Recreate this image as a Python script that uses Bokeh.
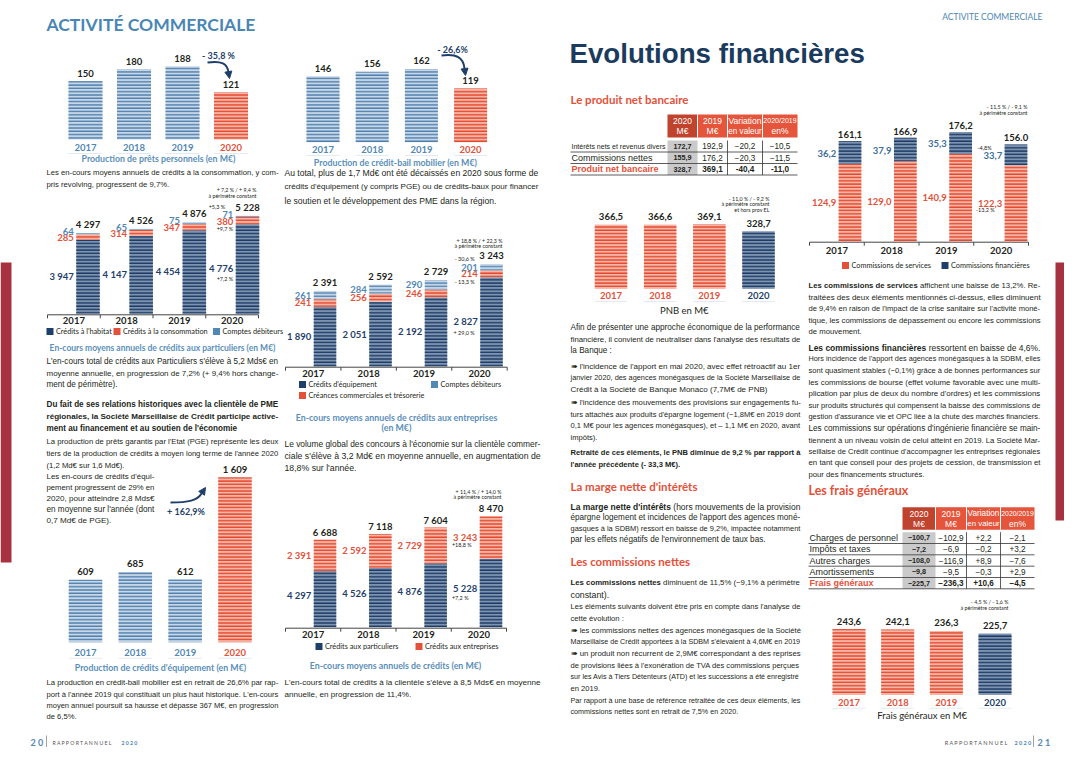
import unicodedata
from bokeh.plotting import figure
from bokeh.models import Range1d, ColumnDataSource, Arrow, NormalHead
from bokeh.embed import file_html
from bokeh.resources import INLINE
from bokeh.core.properties import value

# ------------------------------------------------------------------ data
YEARS = ["2017", "2018", "2019", "2020"]
pret_perso = [150, 180, 188, 121]
credit_bail = [146, 156, 162, 119]
part_habitat = [3947, 4147, 4454, 4776]
part_conso = [285, 314, 347, 380]
part_debiteurs = [64, 65, 75, 71]
part_total = [4297, 4526, 4876, 5228]
ent_equipement = [1890, 2051, 2192, 2827]
ent_creances = [241, 256, 246, 214]
ent_debiteurs = [261, 284, 290, 201]
ent_total = [2391, 2592, 2729, 3243]
prod_equipement = [609, 685, 612, 1609]
encours_part = [4297, 4526, 4876, 5228]
encours_ent = [2391, 2592, 2729, 3243]
encours_total = [6688, 7118, 7604, 8470]
pnb = [366.5, 366.6, 369.1, 328.7]
com_services = [124.9, 129.0, 140.9, 122.3]
com_financieres = [36.2, 37.9, 35.3, 33.7]
com_total = [161.1, 166.9, 176.2, 156.0]
frais_generaux = [243.6, 242.1, 236.3, 225.7]

pnb_head = [("2020", "M€"), ("2019", "M€"), ("Variation", "en valeur"), ("2020/2019", "en%")]
pnb_rows = ["Intérêts nets et revenus divers", "Commissions nettes", "Produit net bancaire"]
pnb_2020 = ["172,7", "155,9", "328,7"]
pnb_2019 = ["192,9", "176,2", "369,1"]
pnb_var = ["−20,2", "−20,3", "-40,4"]
pnb_pct = ["−10,5", "−11,5", "-11,0"]
fg_rows = ["Charges de personnel", "Impôts et taxes", "Autres charges", "Amortissements", "Frais généraux"]
fg_2020 = ["−100,7", "−7,2", "−108,0", "−9,8", "−225,7"]
fg_2019 = ["−102,9", "−6,9", "−116,9", "−9,5", "−236,3"]
fg_var = ["+2,2", "−0,2", "+8,9", "−0,3", "+10,6"]
fg_pct = ["−2,1", "+3,2", "−7,6", "+2,9", "−4,5"]

# ------------------------------------------------------------------ styles
BODY = "Liberation Sans"
LAB = "Lato"
DARK = "#231f20"
NAVY = "#1f3f6b"
STEEL = "#5288b5"
REDT = "#e4513a"
TITLEBLUE = "#5b8fba"
STEEL_K = ("#c8d7e7", "#4d7fad")
RED_K = ("#f5b6a7", "#e5472c")
NAVY_K = ("#7d94b0", "#1d3b66")
LIGHT_K = ("#c6d6e6", "#5b8bb6")

# Liberation Sans (Arial metrics) advance widths, per 1000 em
_REG = {' ': 278, '!': 278, '%': 889, "'": 191, '(': 333, ')': 333, '+': 584, ',': 278, '-': 333,
        '.': 278, '/': 278, ':': 278, ';': 278, 'A': 667, 'B': 667, 'C': 722, 'D': 722, 'E': 667,
        'F': 611, 'G': 778, 'H': 722, 'I': 278, 'J': 500, 'K': 667, 'L': 556, 'M': 833, 'N': 722,
        'O': 778, 'P': 667, 'Q': 778, 'R': 722, 'S': 667, 'T': 611, 'U': 722, 'V': 667, 'W': 944,
        'X': 667, 'Y': 667, 'Z': 611, 'a': 556, 'b': 556, 'c': 500, 'd': 556, 'e': 556, 'f': 278,
        'g': 556, 'h': 556, 'i': 222, 'j': 222, 'k': 500, 'l': 222, 'm': 833, 'n': 556, 'o': 556,
        'p': 556, 'q': 556, 'r': 333, 's': 500, 't': 278, 'u': 556, 'v': 500, 'w': 722, 'x': 500,
        'y': 500, 'z': 500, '€': 556, '−': 584, '–': 556, '➠': 840}
_BOLD = dict(_REG)
_BOLD.update({"'": 238, ':': 333, ';': 333, 'A': 722, 'B': 722, 'L': 611, 'R': 722, 'b': 611, 'c': 556,
              'd': 611, 'f': 333, 'g': 611, 'h': 611, 'i': 278, 'j': 278, 'k': 556, 'l': 278,
              'm': 889, 'n': 611, 'o': 611, 'p': 611, 'q': 611, 'r': 389, 's': 556, 't': 333,
              'u': 611, 'v': 556, 'w': 778, 'x': 556, 'y': 556})


def em(s, bold=False):
    tab = _BOLD if bold else _REG
    tot = 0
    for ch in s:
        base = unicodedata.normalize("NFD", ch)[0]
        tot += tab.get(base, 556)
    return tot / 1000.0


p = figure(width=1064, height=747, x_range=Range1d(0, 1064), y_range=Range1d(747, 0),
           output_backend="svg", toolbar_location=None, min_border=0,
           x_axis_location=None, y_axis_location=None)
p.grid.visible = False
p.outline_line_color = None
p.background_fill_color = "white"

texts = {}


def T(x, y, s, size=9.5, color=DARK, style="normal", align="left", font=BODY):
    key = (font, round(size, 2), color, style, align)
    d = texts.setdefault(key, {"x": [], "y": [], "text": []})
    d["x"].append(x)
    d["y"].append(y)
    d["text"].append(s)


def fit(line, W, bold=False, hi=9.8):
    return min(hi, W / max(em(line, bold), 0.1))


def para(x, ys, lines, W, hi=9.8, style="normal", color=DARK):
    b = style == "bold"
    sizes = [fit(l, W, b, hi) for l in lines]
    full = sorted(sizes[:-1]) if len(lines) > 1 else [8.8]
    med = full[len(full) // 2]
    sizes[-1] = min(med, sizes[-1])
    for y, s, l in zip(ys, sizes, lines):
        T(x, y, l, round(s, 2), color, style)


def mixed(x, y, bold, rest, W, hi=9.8):
    wb = em(bold, True) + em(" ")
    s = min(hi, W / (wb + em(rest)))
    T(x, y, bold, round(s, 2), DARK, "bold")
    T(x + wb * s, y, rest, round(s, 2))


def fr_int(v):
    return f"{v:,}".replace(",", " ")


def fr1(v):
    return f"{v:.1f}".replace(".", ",")


def vbars(xs, w, bottoms, tops, kinds):
    src = ColumnDataSource(dict(x=xs, top=tops, bottom=bottoms,
                                fc=[k[0] for k in kinds], hc=[k[1] for k in kinds]))
    p.vbar(x="x", width=w, top="top", bottom="bottom", fill_color="fc", hatch_color="hc",
           hatch_pattern="-", hatch_scale=3.3, hatch_weight=1.5, line_color=None, source=src)


def simple_chart(vals, x0, step, w, base, scale, kinds, fmt, lab_color, year_y, year_colors,
                 lab_gap=8, underline=True):
    n = len(vals)
    xs = [x0 + i * step for i in range(n)]
    tops = [base - v * scale for v in vals]
    vbars(xs, w, [base] * n, tops, kinds)
    for i in range(n):
        T(xs[i], tops[i] - lab_gap, fmt(vals[i]), 9.5, lab_color, "bold", "center", LAB)
        T(xs[i], year_y, YEARS[i], 9.5, year_colors[i], "bold", "center", LAB)
    if underline:
        p.segment(x0=[x - w / 2 for x in xs], x1=[x + w / 2 for x in xs],
                  y0=[year_y + 6] * n, y1=[year_y + 6] * n, line_color="#e4eaf1", line_width=1)
    return xs, tops


def stacked(layers, x0, step, w, base, scale, kinds):
    n = len(layers[0])
    xs = [x0 + i * step for i in range(n)]
    bottoms = [base] * n
    segs = []
    for layer, kind in zip(layers, kinds):
        tops = [b - v * scale for b, v in zip(bottoms, layer)]
        vbars(xs, w, bottoms, tops, [kind] * n)
        segs.append(([(b + t) / 2 for b, t in zip(bottoms, tops)], tops))
        bottoms = tops
    return xs, segs


def cat_axis(ax0, ax1, y, year_y, n=4):
    p.segment(x0=[ax0], x1=[ax1], y0=[y], y1=[y], line_color="#444", line_width=1)
    step = (ax1 - ax0) / n
    tx = [ax0 + i * step for i in range(n + 1)]
    p.segment(x0=tx, x1=tx, y0=[y] * (n + 1), y1=[y + 3.5] * (n + 1), line_color="#444", line_width=1)
    for i in range(n):
        T(ax0 + (i + 0.5) * step, year_y, YEARS[i], 9.5, DARK, "bold", "center", LAB)


def legend_item(x, y, color, label):
    p.rect(x=[x], y=[y], width=7, height=7, fill_color=color, line_color=None)
    T(x + 6, y, label, 7.3, DARK, "normal", "left", LAB)


def curved_arrow(pts, head):
    (x0, y0), (c0x, c0y), (c1x, c1y), (x1, y1) = pts
    p.bezier(x0=[x0], y0=[y0], cx0=[c0x], cy0=[c0y], cx1=[c1x], cy1=[c1y], x1=[x1], y1=[y1],
             line_color=NAVY, line_width=2)
    p.add_layout(Arrow(end=NormalHead(size=7, fill_color=NAVY, line_color=NAVY),
                       x_start=x1, y_start=y1, x_end=head[0], y_end=head[1],
                       line_color=NAVY, line_width=2))


# ------------------------------------------------------------------ page decorations
p.quad(left=[0], right=[11], top=[262], bottom=[562], fill_color="#a8313f", line_color=None)
p.quad(left=[1055], right=[1064], top=[262], bottom=[520], fill_color="#a8313f", line_color=None)

T(46, 24, "ACTIVITÉ COMMERCIALE", 17.5, "#4a86b5", "bold", "left", LAB)
T(1042, 16, "ACTIVITE COMMERCIALE", 8.5, "#4a86b5", "normal", "right", LAB)
T(569, 53, "Evolutions financières", round(296 / em("Evolutions financières", True), 1),
  "#1b3b5e", "bold", "left", BODY)

# footer
p.segment(x0=[46, 1033], x1=[46, 1033], y0=[735, 735], y1=[747, 747], line_color="#888", line_width=0.8)
T(30, 742, "2 0", 9, STEEL, "bold", "left", LAB)
T(52, 742, "R A P P O R T   A N N U E L", 5.2, "#555", "normal", "left", LAB)
T(121, 742, "2 0 2 0", 5.2, STEEL, "bold", "left", LAB)
T(1011, 742, "R A P P O R T   A N N U E L", 5.5, "#555", "normal", "right", LAB)
T(1014, 742, "2 0 2 0", 5.5, STEEL, "bold", "left", LAB)
T(1037, 742, "2 1", 9, STEEL, "bold", "left", LAB)

BLUE3 = [STEEL_K, STEEL_K, STEEL_K, RED_K]
YC_BLUE = [STEEL, STEEL, STEEL, REDT]

# ------------------------------------------------------------------ chart 1 : prêts personnels
simple_chart(pret_perso, 85, 48.5, 34, 139, 0.39, BLUE3, fr_int, DARK, 147, YC_BLUE)
T(158, 158, "Production de prêts personnels (en M€)", 8.8, TITLEBLUE, "bold", "center", LAB)
T(218, 55, "- 35,8 %", 9, NAVY, "bold", "center", LAB)
curved_arrow([(207, 62), (221, 60), (227, 63), (228, 72)], (229, 78))

# ------------------------------------------------------------------ chart 2 : crédit-bail
simple_chart(credit_bail, 322.5, 49.2, 33, 141.7, 0.452, BLUE3, fr_int, DARK, 149, YC_BLUE)
T(395, 162, "Production de crédit-bail mobilier (en M€)", 8.8, TITLEBLUE, "bold", "center", LAB)
T(452, 49, "- 26,6%", 9, NAVY, "bold", "center", LAB)
curved_arrow([(441, 55), (456, 53), (463, 57), (464, 68)], (465, 75))

para(46, [172, 184], ["Les en-cours moyens annuels de crédits à la consommation, y com-",
                      "pris revolving, progressent de 9,7%."], 232)
para(284, [172, 186, 200], ["Au total, plus de 1,7 Md€ ont été décaissés en 2020 sous forme de",
                            "crédits d'équipement (y compris PGE) ou de crédits-baux pour financer",
                            "le soutien et le développement des PME dans la région."], 254)

# ------------------------------------------------------------------ chart 3 : crédits aux particuliers
w3 = 23.5
xs, segs = stacked([part_habitat, part_conso, part_debiteurs], 87.5, 53.17, w3, 313.3, 0.01877,
                   [NAVY_K, RED_K, LIGHT_K])
cat_axis(47, 258, 314.3, 320)
for i in range(4):
    lx = xs[i] - w3 / 2 - 2.5
    yn = segs[0][0][i]
    yr = segs[1][0][i] + 0.5
    ys = min(segs[2][0][i], yr - 6.5)
    T(lx, yn, fr_int(part_habitat[i]), 9.5, NAVY, "bold", "right", LAB)
    T(lx, yr, fr_int(part_conso[i]), 9.5, REDT, "bold", "right", LAB)
    T(lx, ys, fr_int(part_debiteurs[i]), 9.5, STEEL, "bold", "right", LAB)
    T(xs[i], segs[2][1][i] - 8.5, fr_int(part_total[i]), 9.5, DARK, "bold", "center", LAB)
    if i == 3:
        T(lx, yn + 10, "+7,2 %", 5.5, DARK, "normal", "right", LAB)
        T(lx, yr + 8, "+9,7 %", 5.5, DARK, "normal", "right", LAB)
        T(lx - 8, ys - 8, "+5,3 %", 5.5, DARK, "normal", "right", LAB)
T(256, 189, "+ 7,2 % / + 9,4 %", 5.3, DARK, "normal", "right", LAB)
T(256, 195, "à périmètre constant", 5.3, DARK, "normal", "right", LAB)
legend_item(49.5, 331, NAVY, "Crédits à l'habitat")
legend_item(116.5, 331, REDT, "Crédits à la consommation")
legend_item(216, 331, STEEL, "Comptes débiteurs")
T(162, 347, "En-cours moyens annuels de crédits aux particuliers (en M€)", 8.5, TITLEBLUE, "bold", "center", LAB)

para(46, [361, 373, 384], ["L'en-cours total de crédits aux Particuliers s'élève à 5,2 Mds€ en",
                           "moyenne annuelle, en progression de 7,2% (+ 9,4% hors change-",
                           "ment de périmètre)."], 232)
para(46, [404, 416, 428], ["Du fait de ses relations historiques avec la clientèle de PME",
                           "régionales, la Société Marseillaise de Crédit participe active-",
                           "ment au financement et au soutien de l'économie"], 232, style="bold")
para(46, [441, 453, 465], ["La production de prêts garantis par l'Etat (PGE) représente les deux",
                           "tiers de la production de crédits à moyen long terme de l'année 2020",
                           "(1,2 Md€ sur 1,6 Md€)."], 232)
para(46, [476, 487, 498, 509, 520], ["Les en-cours de crédits d'équi-",
                                     "pement progressent de 29% en",
                                     "2020, pour atteindre 2,8 Mds€",
                                     "en moyenne sur l'année (dont",
                                     "0,7 Md€ de PGE)."], 108)

# ------------------------------------------------------------------ chart 4 : crédits aux entreprises
w4 = 22.5
xs, segs = stacked([ent_equipement, ent_creances, ent_debiteurs], 324.5, 55.5, w4, 366, 0.0316,
                   [NAVY_K, RED_K, LIGHT_K])
cat_axis(285, 506.7, 366.7, 373.3)
for i in range(4):
    lx = xs[i] - w4 / 2 - 2.5
    T(lx, segs[0][0][i], fr_int(ent_equipement[i]), 9.5, NAVY, "bold", "right", LAB)
    T(lx, segs[1][0][i], fr_int(ent_creances[i]), 9.5, REDT, "bold", "right", LAB)
    T(lx, segs[2][0][i], fr_int(ent_debiteurs[i]), 9.5, STEEL, "bold", "right", LAB)
    T(xs[i], segs[2][1][i] - 8.5, fr_int(ent_total[i]), 9.5, DARK, "bold", "center", LAB)
    if i == 3:
        T(lx - 3, segs[0][0][i] + 11, "+ 29,0 %", 5.5, DARK, "normal", "right", LAB)
        T(lx - 3, segs[1][0][i] + 8.7, "- 13,3 %", 5.5, DARK, "normal", "right", LAB)
        T(lx - 3, segs[2][0][i] - 8, "- 30,6 %", 5.5, DARK, "normal", "right", LAB)
T(502, 240, "+ 18,8 % / + 22,3 %", 5.3, DARK, "normal", "right", LAB)
T(502, 245.5, "à périmètre constant", 5.3, DARK, "normal", "right", LAB)
legend_item(302, 384, NAVY, "Crédits d'équipement")
legend_item(434, 384, STEEL, "Comptes débiteurs")
legend_item(302, 395, REDT, "Créances commerciales et trésorerie")
T(396, 417, "En-cours moyens annuels de crédits aux entreprises", 8.8, TITLEBLUE, "bold", "center", LAB)
T(396, 427, "(en M€)", 8.8, TITLEBLUE, "bold", "center", LAB)

para(284, [443, 455, 467], ["Le volume global des concours à l'économie sur la clientèle commer-",
                            "ciale s'élève à 3,2 Md€ en moyenne annuelle, en augmentation de",
                            "18,8% sur l'année."], 256)

# ------------------------------------------------------------------ chart 5 : crédits d'équipement
simple_chart(prod_equipement, 85, 49.83, 33.5, 641.7, 0.1025, BLUE3, fr_int, DARK, 651.7, YC_BLUE)
T(160, 667, "Production de crédits d'équipement (en M€)", 8.8, TITLEBLUE, "bold", "center", LAB)
T(185.5, 511, "+ 162,9%", 9, NAVY, "bold", "center", LAB)
curved_arrow([(170, 502), (188, 502), (197, 500), (201, 493)], (205, 487))

para(46, [682, 694, 705, 716], ["La production en crédit-bail mobilier est en retrait de 26,6% par rap-",
                                "port à l'année 2019 qui constituait un plus haut historique. L'en-cours",
                                "moyen annuel poursuit sa hausse et dépasse 367 M€, en progression",
                                "de 6,5%."], 232)

# ------------------------------------------------------------------ chart 6 : en-cours totaux
w6 = 22.5
xs, segs = stacked([encours_part, encours_ent], 324.5, 55.33, w6, 626.7, 0.0131, [NAVY_K, RED_K])
cat_axis(285, 506, 627.7, 634.3)
for i in range(4):
    lx = xs[i] - w6 / 2 - 2.5
    T(lx, segs[0][0][i] - 4, fr_int(encours_part[i]), 9.5, NAVY, "bold", "right", LAB)
    T(lx, segs[1][0][i], fr_int(encours_ent[i]), 9.5, REDT, "bold", "right", LAB)
    T(xs[i], segs[1][1][i] - 7.5, fr_int(encours_total[i]), 9.5, DARK, "bold", "center", LAB)
x_note = xs[2] + w6 / 2 + 5
T(x_note, segs[1][0][2], "+18,8 %", 5.5, DARK, "normal", "left", LAB)
T(x_note, segs[0][0][3] + 5, "+7,2 %", 5.5, DARK, "normal", "left", LAB)
T(501, 491, "+ 11,4 % / + 14,0 %", 5.3, DARK, "normal", "right", LAB)
T(501, 496.5, "à périmètre constant", 5.3, DARK, "normal", "right", LAB)
legend_item(318.5, 646, NAVY, "Crédits aux particuliers")
legend_item(418.5, 646, REDT, "Crédits aux entreprises")
T(395, 665, "En-cours moyens annuels de crédits (en M€)", 8.8, TITLEBLUE, "bold", "center", LAB)

para(284, [682, 694], ["L'en-cours total de crédits à la clientèle s'élève à 8,5 Mds€ en moyenne",
                       "annuelle, en progression de 11,4%."], 256)

# ------------------------------------------------------------------ right page : PNB
T(570, 99, "Le produit net bancaire", 11.5, REDT, "bold", "left", LAB)


def table(left, cols, head_top, head_bot, row_edges, head, rows, c1, c2, c3, c4):
    hc = ["#c0432d", "#e4553b", "#e4553b", "#e4553b"]
    p.quad(left=cols[:-1], right=cols[1:], top=[head_top] * 4, bottom=[head_bot] * 4,
           fill_color=hc, line_color=None)
    p.segment(x0=cols[1:4], x1=cols[1:4], y0=[head_top] * 3, y1=[head_bot] * 3,
              line_color="white", line_width=1)
    hm = (head_top + head_bot) / 2
    for j, (a, b) in enumerate(head):
        cx = (cols[j] + cols[j + 1]) / 2
        cw = cols[j + 1] - cols[j] - 1.5
        T(cx, hm - 5, a, round(min(8.5, cw / em(a)), 2), "white", "normal", "center", BODY)
        T(cx, hm + 5, b, round(min(8.5, cw / em(b)), 2), "white", "normal", "center", BODY)
    nr = len(rows)
    p.quad(left=[cols[0]] * nr, right=[cols[1]] * nr, top=row_edges[:-1], bottom=row_edges[1:],
           fill_color="#cacaca", line_color=None)
    p.segment(x0=[left] * nr, x1=[cols[-1]] * nr, y0=row_edges[1:], y1=row_edges[1:],
              line_color="#333", line_width=0.8)
    p.segment(x0=cols[2:4], x1=cols[2:4], y0=[row_edges[0]] * 2, y1=[row_edges[-1]] * 2,
              line_color="#333", line_width=0.8)
    lw = cols[0] - left - 3
    for r in range(nr):
        ym = (row_edges[r] + row_edges[r + 1]) / 2
        red = r == nr - 1
        T(left + 1, ym, rows[r], round(fit(rows[r], lw, red, 9), 2), REDT if red else DARK,
          "bold" if red else "normal", "left", BODY)
        vals = [c1[r], c2[r], c3[r], c4[r]]
        for j in range(4):
            cx = (cols[j] + cols[j + 1]) / 2
            sz = 7.2 if j == 0 else 8.2
            T(cx, ym, vals[j], sz, DARK, "bold" if (red or j == 0) else "normal", "center", BODY)


table(570, [667, 697, 727, 762, 797], 114, 137, [140, 151.5, 163, 174.5], pnb_head,
      pnb_rows, pnb_2020, pnb_2019, pnb_var, pnb_pct)

pnb_kinds = [RED_K, RED_K, RED_K, NAVY_K]
simple_chart(pnb, 610.5, 49.17, 32.5, 288.3, 0.175, pnb_kinds, fr1, DARK, 295,
             [REDT, REDT, REDT, NAVY])
T(685, 310, "PNB en  M€", 9.5, DARK, "normal", "center", LAB)
T(769, 198, "- 11,0 % / - 9,2 %", 5.3, DARK, "normal", "right", LAB)
T(769, 203.5, "à périmètre constant", 5.3, DARK, "normal", "right", LAB)
T(769, 209, "et hors prov EL", 5.3, DARK, "normal", "right", LAB)

RW = 230
para(570, [327, 338.5, 350], ["Afin de présenter une approche économique de la performance",
                              "financière, il convient de neutraliser dans l'analyse des résultats de",
                              "la Banque :"], RW)
para(570, [365.5, 377, 388.5], ["➠ l'incidence de l'apport en mai 2020, avec effet rétroactif au 1er",
                                "janvier 2020, des agences monégasques de la Société Marseillaise de",
                                "Crédit à la Société de Banque Monaco (7,7M€ de PNB)"], RW)
para(570, [402, 413.5, 425, 436.5], ["➠ l'incidence des mouvements des provisions sur engagements fu-",
                                     "turs attachés aux produits d'épargne logement (−1,8M€ en 2019 dont",
                                     "0,1 M€ pour les agences monégasques), et – 1,1 M€ en 2020, avant",
                                     "impôts)."], RW)
para(570, [452, 463.5], ["Retraité de ces éléments, le PNB diminue de 9,2 % par rapport à",
                         "l'année précédente (- 33,3 M€)."], RW, style="bold")

T(570, 486, "La marge nette d'intérêts", 11.5, REDT, "bold", "left", LAB)
mixed(570, 506, "La marge nette d'intérêts", "(hors mouvements de la provision", RW)
para(570, [517, 528, 539], ["épargne logement et incidences de l'apport des agences moné-",
                            "gasques à la SDBM) ressort en baisse de 9,2%, impactée notamment",
                            "par les effets négatifs de l'environnement de taux bas."], RW)

T(570, 561, "Les commissions nettes", 11.5, REDT, "bold", "left", LAB)
mixed(570, 582, "Les commissions nettes", "diminuent de 11,5% (−9,1% à périmètre", RW)
T(570, 594, "constant).", 8.8)
para(570, [606, 618], ["Les éléments suivants doivent être pris en compte dans l'analyse de",
                       "cette évolution :"], RW)
para(570, [630, 641], ["➠ les commissions nettes des agences monégasques de la Société",
                       "Marseillaise de Crédit apportées à la SDBM s'élevaient à 4,6M€ en 2019"], RW)
para(570, [653, 665, 676, 688], ["➠ un produit non récurrent de 2,9M€ correspondant à des reprises",
                                 "de provisions liées à l'exonération de TVA des commissions perçues",
                                 "sur les Avis à Tiers Détenteurs (ATD) et les successions a été enregistré",
                                 "en 2019."], RW)
para(570, [700, 711], ["Par rapport à une base de référence retraitée de ces deux éléments, les",
                       "commissions nettes sont en retrait de 7,5% en 2020."], RW)

# ------------------------------------------------------------------ right page : commissions
w9 = 22.7
xs, segs = stacked([com_services, com_financieres], 849.5, 55.33, w9, 240.7, 0.62, [RED_K, NAVY_K])
cat_axis(809, 1028, 241.7, 250)
tot_labels = [fr1(v) for v in com_total]
tot_labels[3] = tot_labels[3].replace(",", ".")
for i in range(4):
    lx = xs[i] - w9 / 2 - 2.5
    T(lx, segs[0][0][i], fr1(com_services[i]), 9.5, REDT, "bold", "right", LAB)
    T(lx, segs[1][0][i] + 1, fr1(com_financieres[i]), 9.5, "#3d6f9c", "bold", "right", LAB)
    T(xs[i], segs[1][1][i] - 6.5, tot_labels[i], 9.5, DARK, "bold", "center", LAB)
T(xs[3] - w9 / 2 - 13, 147.3, "-4,8%", 5.5, DARK, "normal", "right", LAB)
T(xs[3] - w9 / 2 - 10, 209.3, "-13,2 %", 5.5, DARK, "normal", "right", LAB)
T(1027, 106.7, "- 11,5 % / - 9,1 %", 5.3, DARK, "normal", "right", LAB)
T(1027, 112, "à périmètre constant", 5.3, DARK, "normal", "right", LAB)
legend_item(845, 265, REDT, "Commissions de services")
legend_item(944.5, 265, NAVY, "Commissions financières")

CW = 232
mixed(808, 285, "Les commissions de services", "affichent une baisse de 13,2%. Re-", CW)
para(808, [297, 308, 320, 331], ["traitées des deux éléments mentionnés ci-dessus, elles diminuent",
                                 "de 9,4% en raison de l'impact de la crise sanitaire sur l'activité moné-",
                                 "tique, les commissions de dépassement ou encore les commissions",
                                 "de mouvement."], CW)
mixed(808, 347, "Les commissions financières", "ressortent en baisse de 4,6%.", CW, hi=8.8)
para(808, [358, 370, 382, 393, 405, 416, 428, 440, 451, 462, 474],
     ["Hors incidence de l'apport des agences monégasques à la SDBM, elles",
      "sont quasiment stables (−0,1%) grâce à de bonnes performances sur",
      "les commissions de bourse (effet volume favorable avec une multi-",
      "plication par plus de deux du nombre d'ordres) et les commissions",
      "sur produits structurés qui compensent la baisse des commissions de",
      "gestion d'assurance vie et OPC liée à la chute des marchés financiers.",
      "Les commissions sur opérations d'ingénierie financière se main-",
      "tiennent à un niveau voisin de celui atteint en 2019. La Société Mar-",
      "seillaise de Crédit continue d'accompagner les entreprises régionales",
      "en tant que conseil pour des projets de cession, de transmission et",
      "pour des financements structurés."], CW)

# ------------------------------------------------------------------ right page : frais généraux
T(808, 490, "Les frais généraux", 12.5, REDT, "bold", "left", LAB)
table(808, [902, 935, 966, 1000, 1034], 506.7, 529.3, [531.7, 543, 554.3, 565.7, 577, 588.3],
      pnb_head, fg_rows, fg_2020, fg_2019, fg_var, fg_pct)

fg_kinds = [RED_K, RED_K, RED_K, NAVY_K]
simple_chart(frais_generaux, 848.5, 48.67, 33, 694.3, 0.27, fg_kinds, fr1, DARK, 701.7,
             [REDT, REDT, REDT, NAVY])
T(921.7, 715, "Frais généraux en M€", 9.5, DARK, "normal", "center", LAB)
T(1008, 601.7, "- 4,5 % / - 1,6 %", 5.3, DARK, "normal", "right", LAB)
T(1008, 607.5, "à périmètre constant", 5.3, DARK, "normal", "right", LAB)

# ------------------------------------------------------------------ emit texts
for (font, size, color, style, align), d in texts.items():
    p.text(x="x", y="y", text="text", source=ColumnDataSource(d), text_font=value(font),
           text_font_size=f"{size}px", text_color=color, text_font_style=style,
           text_align=align, text_baseline="middle")

open("out.html", "w").write(file_html(p, INLINE))
